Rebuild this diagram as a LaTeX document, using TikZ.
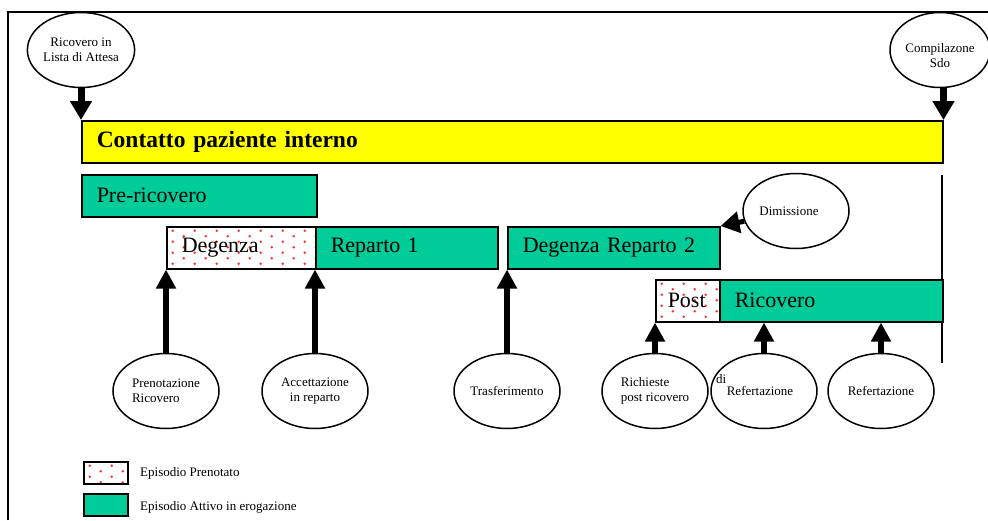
\documentclass[tikz,border=0pt]{standalone}
\usepackage{fontspec}
\setmainfont{Liberation Serif}
\usetikzlibrary{shapes.geometric,arrows.meta}
\definecolor{tealgreen}{HTML}{00CC99}
\definecolor{dotred}{HTML}{FF3030}
\definecolor{baryellow}{HTML}{FFFF00}
\begin{document}
\begin{tikzpicture}[x=1pt,y=-1pt,
  dotsfill/.style={path picture={
    \foreach \i in {0,...,14}{\foreach \j in {0,...,4}{
      \fill[dotred] ([xshift={\i*11pt+6pt}, yshift={-\j*11pt-4pt-mod(\i,2)*5.5pt}]path picture bounding box.north west) circle (1.4pt);}}}},
  box/.style={draw, line width=1.5pt, inner xsep=15pt, inner ysep=0pt, align=left,
    anchor=north west, minimum height=42pt, font=\fontsize{22}{26}\selectfont},
  active/.style={box, fill=tealgreen},
  booked/.style={box, fill=white, dotsfill},
  legendbox/.style={draw, line width=1.5pt, anchor=north west, inner sep=0pt,
    minimum width=44pt, minimum height=22pt},
  ev/.style={ellipse, draw, line width=1.5pt, minimum width=106pt, minimum height=75pt,
    inner sep=0pt, fill=white, font=\fontsize{13}{15}\selectfont, align=center},
  smalltext/.style={inner sep=0pt, font=\fontsize{13}{15}\selectfont},
  bigarrow/.style={line width=7pt, -{Triangle[width=21pt,length=19pt]}},
  uparrow/.style={line width=6.5pt, -{Triangle[width=19pt,length=19pt]}},
  dimarrow/.style={line width=5pt, -{Triangle[width=21pt,length=19pt]}},
  frameline/.style={line width=1.5pt}
]
\useasboundingbox (0,0) rectangle (988,520);

% frame
\coordinate (fbl) at (8,520);
\coordinate (ftl) at (8,12);
\coordinate (ftr) at (988,12);
\draw[frameline] (fbl) -- (ftl) -- (ftr);

% right vertical line
\coordinate (vtop) at (942,175);
\coordinate (vbot) at (942,363);
\draw[frameline] (vtop) -- (vbot);

% bars
\node[box, fill=baryellow, text width=831pt, font=\bfseries\fontsize{23.5}{28}\selectfont] (contatto) at (81,120) {Contatto paziente interno};
\node[active, text width=205pt] (pre) at (81,174) {Pre-ricovero};
\node[booked, text width=119pt] (deg) at (166,226) {Degenza};
\node[active, text width=152pt] (rep1) at (315,226) {Reparto 1};
\node[active, text width=182pt] (rep2) at (507,226) {Degenza Reparto 2};
\node[booked, inner xsep=12pt, text width=40pt] (post) at (655,279) {Post};
\node[active, text width=193pt] (ricov) at (719,279) {Ricovero};

% ellipses
\node[ev] (rla) at (81,50) {Ricovero in\\Lista di Attesa};
\node[ev, minimum width=100pt] (csdo) at (940,50) {\raisebox{-10pt}[0pt][0pt]{\begin{tabular}[c]{@{}c@{}}Compilazone\\Sdo\end{tabular}}};
\node[ev] (dim) at (796,211) {Dimissione\hspace*{14pt}};
\node[ev, align=left] (pren) at (166,391) {Prenotazione\\Ricovero};
\node[ev] (acc) at (315,391) {Accettazione\\in reparto};
\node[ev] (tras) at (507,391) {Trasferimento};
\node[ev, align=left] (rich) at (655,391) {Richieste\\post ricovero};
\node[ev] (ref1) at (764,391) {Refertazione\hspace*{8pt}};
\node[ev] (ref2) at (881,391) {Refertazione};
\node[smalltext, anchor=west] (di) at (716,379) {di};

% arrows
\draw[bigarrow] (rla.south) -- (rla.south |- contatto.north west);
\draw[bigarrow] (csdo.south -| contatto.north east) -- (contatto.north east);
\draw[dimarrow] (dim) -- (rep2.north east);
\draw[uparrow] (pren.north) -- (pren.north |- deg.south west);
\draw[uparrow] (acc.north) -- (acc.north |- deg.south east);
\draw[uparrow] (tras.north) -- (tras.north |- rep2.south west);
\draw[uparrow] (rich.north) -- (rich.north |- post.south west);
\draw[uparrow] (ref1.north) -- (ref1.north |- ricov.south);
\draw[uparrow] (ref2.north) -- (ref2.north |- ricov.south);

% legend
\node[legendbox, fill=white, dotsfill] (leg1) at (83,461) {};
\node[smalltext, anchor=west] (leg1t) at (140,473) {Episodio Prenotato};
\node[legendbox, fill=tealgreen] (leg2) at (83,493) {};
\node[smalltext, anchor=west] (leg2t) at (140,507) {Episodio Attivo in erogazione};
\end{tikzpicture}
\end{document}
